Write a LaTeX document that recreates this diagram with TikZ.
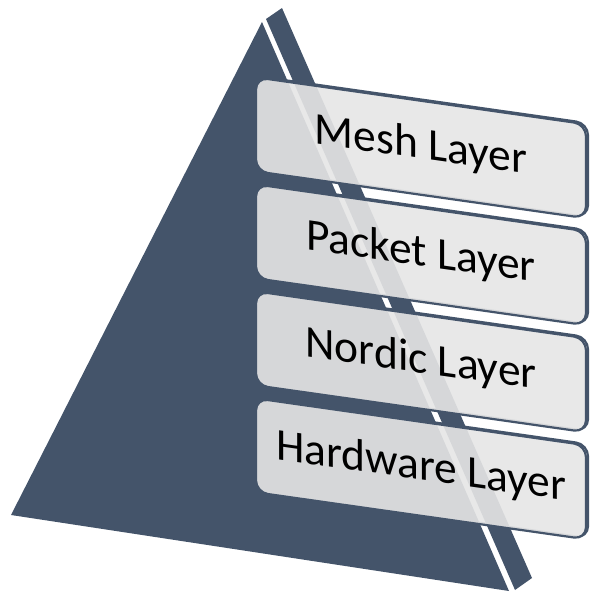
\documentclass[tikz,border=0pt]{standalone}
\usepackage{fontspec}
\setmainfont{Carlito}
\definecolor{pyr}{HTML}{44546A}
\definecolor{boxgray}{HTML}{E6E6E6}
\begin{document}
\begin{tikzpicture}[x=1pt,y=-1pt,
  face/.style={fill=pyr, draw=none},
  layerbox/.style={draw=pyr, line width=2.2pt, fill=boxgray, fill opacity=0.9, text opacity=1,
    preaction={draw=pyr, line width=2.2pt, transform canvas={shift={(2pt,1pt)}}},
    rounded corners=12pt, minimum width=330pt, minimum height=94pt, inner sep=0pt,
    text height=31pt, text depth=9pt, transform shape,
    font=\fontsize{45.5}{52}\selectfont}]
\useasboundingbox (0,0) rectangle (607,604);
% pyramid faces
\fill[face] (262,22) coordinate (apex) -- (11,515) coordinate (bl) -- (509,591) coordinate (br) -- cycle;
\fill[face] (266,19) coordinate (rtl) -- (282,8) coordinate (rtr) -- (532,578) coordinate (rbr) -- (515,590) coordinate (rbl) -- cycle;
% layer boxes (sheared)
\begin{scope}[cm={1,-0.142,0,1,(0pt,36.49pt)}]
  \node[layerbox] (mesh) at (421,124.5) {Mesh Layer};
  \node[layerbox] (packet) at (421,231.5) {Packet Layer};
  \node[layerbox] (nordic) at (421,338.5) {Nordic Layer};
  \node[layerbox] (hardware) at (421,445.5) {Hardware Layer};
\end{scope}
\end{tikzpicture}
\end{document}
